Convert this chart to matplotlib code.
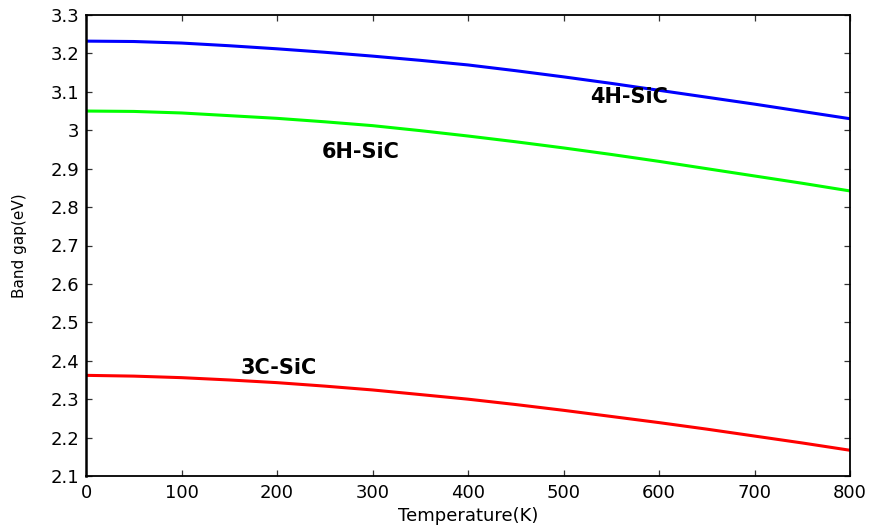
import matplotlib
matplotlib.use("Agg")
import matplotlib.pyplot as plt
from matplotlib.ticker import FormatStrFormatter, FuncFormatter

# Temperature grid (K) and band gap values (eV) for the three SiC polytypes
temperature = [0, 50, 100, 150, 200, 250, 300, 350, 400,
               450, 500, 550, 600, 650, 700, 750, 800]
eg_4h = [3.232, 3.231, 3.227, 3.220, 3.212, 3.203, 3.193, 3.182, 3.170,
         3.155, 3.139, 3.122, 3.104, 3.086, 3.068, 3.049, 3.030]
eg_6h = [3.050, 3.049, 3.045, 3.038, 3.031, 3.022, 3.012, 2.999, 2.985,
         2.970, 2.954, 2.937, 2.919, 2.900, 2.881, 2.862, 2.842]
eg_3c = [2.362, 2.360, 2.356, 2.350, 2.343, 2.334, 2.324, 2.312, 2.300,
         2.286, 2.271, 2.255, 2.239, 2.222, 2.204, 2.186, 2.167]

series = [
    ("4H-SiC", eg_4h, "#0000ff", (569, 3.0704)),
    ("6H-SiC", eg_6h, "#00ff00", (288, 2.9269)),
    ("3C-SiC", eg_3c, "#ff0000", (202, 2.366)),
]

x_ticks = [0, 100, 200, 300, 400, 500, 600, 700, 800]
y_ticks = [2.1, 2.2, 2.3, 2.4, 2.5, 2.6, 2.7, 2.8, 2.9, 3.0, 3.1, 3.2, 3.3]

plt.rcParams["font.family"] = ["DejaVu Sans"]

fig = plt.figure(figsize=(8.72, 5.28), dpi=100)
ax = fig.add_axes([86 / 872, 1 - 476 / 528, 764 / 872, 461 / 528])

for name, values, color, (tx, ty) in series:
    ax.plot(temperature, values, color=color, linewidth=2.2,
            solid_capstyle="butt")
    ax.text(tx, ty, name, fontsize=15, fontweight="bold", color="black",
            ha="center", va="baseline")

ax.set_xlim(0, 800)
ax.set_ylim(2.1, 3.3)
ax.set_xticks(x_ticks)
ax.set_yticks(y_ticks)
ax.yaxis.set_major_formatter(FuncFormatter(lambda v, p: f"{v:g}"))

ax.tick_params(axis="both", which="major", direction="in", length=4,
               width=0.9, color="#333333", labelsize=13,
               top=True, right=True)
ax.tick_params(axis="x", pad=6)
ax.tick_params(axis="y", pad=5)

for side, spine in ax.spines.items():
    spine.set_linewidth(1.3)
    spine.set_color("black")
ax.spines["left"].set_linewidth(1.8)

ax.set_xlabel("Temperature(K)", fontsize=13)
ax.set_ylabel("Band gap(eV)", fontsize=11)
ax.xaxis.set_label_coords(0.5, -0.067)
ax.yaxis.set_label_coords(-0.077, 0.5)

fig.savefig("out.png", dpi=100, facecolor="white")
